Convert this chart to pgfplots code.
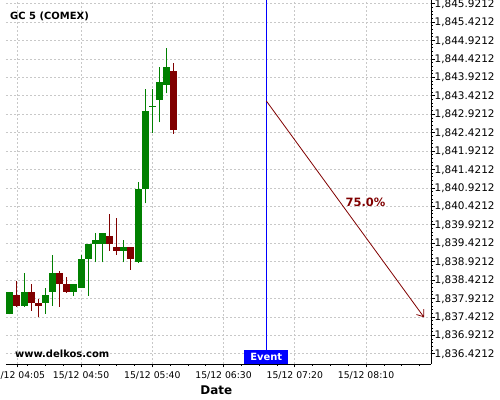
\documentclass[border=0pt]{standalone}
\usepackage{fontspec}
\setmainfont{DejaVu Sans}
\usepackage{pgfplots}
\pgfplotsset{compat=1.18}
\usetikzlibrary{arrows.meta}
\definecolor{cgreen}{RGB}{0,128,0}
\definecolor{cred}{RGB}{128,0,0}
\definecolor{gridc}{RGB}{200,200,200}
\begin{document}
\begin{tikzpicture}
\begin{axis}[
  at={(0,0)}, anchor=south west,
  scale only axis, width=425bp, height=364bp,
  xmin=-2.7, xmax=295.6, ymin=1836.1423, ymax=1846.0175,
  axis x line*=bottom, axis y line*=right,
  axis line style={line width=0.9bp, black},
  xtick={5,50,100,150,200,250},
  xticklabels={15/12 04:05,15/12 04:50,15/12 05:40,15/12 06:30,15/12 07:20,15/12 08:10},
  minor xtick={12.5,25,37.5,62.5,75,87.5,112.5,125,137.5,162.5,175,187.5,212.5,225,237.5,262.5,275,287.5},
  ytick={1836.4212,1836.9212,1837.4212,1837.9212,1838.4212,1838.9212,1839.4212,1839.9212,1840.4212,1840.9212,1841.4212,1841.9212,1842.4212,1842.9212,1843.4212,1843.9212,1844.4212,1844.9212,1845.4212,1845.9212},
  yticklabels={{1,836.4212},{1,836.9212},{1,837.4212},{1,837.9212},{1,838.4212},{1,838.9212},{1,839.4212},{1,839.9212},{1,840.4212},{1,840.9212},{1,841.4212},{1,841.9212},{1,842.4212},{1,842.9212},{1,843.4212},{1,843.9212},{1,844.4212},{1,844.9212},{1,845.4212},{1,845.9212}},
  minor y tick num=4,
  tick align=outside,
  major tick length=3.5bp, minor tick length=2bp,
  tick style={black, line width=0.6bp},
  grid=major,
  major grid style={gridc, dash pattern=on 2bp off 2bp, line width=0.6bp},
  xticklabel style={font=\fontsize{9.3}{11}\selectfont, inner sep=0pt, anchor=north, yshift=-4bp},
  yticklabel style={font=\fontsize{10.5}{12}\selectfont, inner sep=0pt, anchor=base west, yshift=-3.7bp},
  xlabel={Date},
  xlabel style={font=\bfseries\fontsize{12}{14}\selectfont, at={(rel axis cs:0.495,0)}, anchor=base, yshift=-30.3bp, inner sep=0pt},
]
% green wicks
\addplot[cgreen, line width=1bp, unbounded coords=jump, forget plot] coordinates {
(0,1837.490)(0,1838.096) (0,nan)
(10,1837.697)(10,1838.603) (10,nan)
(25,1837.499)(25,1838.204) (25,nan)
(30,1837.716)(30,1839.099) (30,nan)
(45,1837.995)(45,1838.313) (45,nan)
(50,1838.204)(50,1839.099) (50,nan)
(55,1837.995)(55,1839.398) (55,nan)
(60,1838.901)(60,1839.696) (60,nan)
(65,1838.901)(65,1839.696) (65,nan)
(80,1838.901)(80,1839.506) (80,nan)
(90,1838.891)(90,1841.088) (90,nan)
(95,1840.502)(95,1843.595) (95,nan)
(100,1842.401)(100,1843.595) (100,nan)
(105,1842.700)(105,1844.192) (105,nan)
(110,1843.486)(110,1844.707)
};
% green bodies
\addplot[cgreen, line width=7bp, unbounded coords=jump, forget plot] coordinates {
(0,1837.507)(0,1838.096) (0,nan)
(10,1837.716)(10,1838.096) (10,nan)
(25,1837.805)(25,1838.014) (25,nan)
(30,1838.096)(30,1838.611) (30,nan)
(45,1838.104)(45,1838.313) (45,nan)
(50,1838.204)(50,1838.991) (50,nan)
(55,1838.991)(55,1839.398) (55,nan)
(60,1839.398)(60,1839.506) (60,nan)
(65,1839.398)(65,1839.696) (65,nan)
(80,1839.208)(80,1839.317) (80,nan)
(90,1838.918)(90,1840.890) (90,nan)
(95,1840.890)(95,1843.006) (95,nan)
(105,1843.305)(105,1843.793) (105,nan)
(110,1843.720)(110,1844.200)
};
% doji
\addplot[cgreen, only marks, mark=-, mark size=3.5bp, mark options={line width=1bp}, forget plot] coordinates {(100,1843.134)};
% red wicks
\addplot[cred, line width=1bp, unbounded coords=jump, forget plot] coordinates {
(5,1837.697)(5,1838.386) (5,nan)
(15,1837.588)(15,1838.313) (15,nan)
(20,1837.409)(20,1837.898) (20,nan)
(35,1837.697)(35,1838.674) (35,nan)
(40,1838.077)(40,1838.495) (40,nan)
(70,1839.208)(70,1840.212) (70,nan)
(75,1839.099)(75,1840.103) (75,nan)
(85,1838.693)(85,1839.317) (85,nan)
(115,1842.390)(115,1844.300)
};
% red bodies
\addplot[cred, line width=7bp, unbounded coords=jump, forget plot] coordinates {
(5,1837.716)(5,1838.014) (5,nan)
(15,1837.805)(15,1838.096) (15,nan)
(20,1837.716)(20,1837.805) (20,nan)
(35,1838.313)(35,1838.611) (35,nan)
(40,1838.104)(40,1838.313) (40,nan)
(70,1839.398)(70,1839.615) (70,nan)
(75,1839.208)(75,1839.317) (75,nan)
(85,1838.991)(85,1839.317) (85,nan)
(115,1842.499)(115,1844.091)
};
% event line
\addplot[blue, line width=1bp, forget plot] coordinates {(180,1836.1423) (180,1846.0175)};
% forecast arrow
\addplot[cred, line width=0.8bp, -{Straight Barb[length=6bp,width=9bp]}, forget plot] coordinates {(180,1843.28) (290.7,1837.41)};
\node[cred, font=\bfseries\fontsize{11.5}{13}\selectfont, inner sep=0pt] at (axis cs:249.6,1840.524) {75.0\%};
\node[fill=blue, text=white, font=\bfseries\fontsize{10}{12}\selectfont, anchor=south, minimum width=44bp, minimum height=14bp, inner sep=0pt] at (axis cs:180,1836.1423) {Event};
\end{axis}
\node[anchor=base west, inner sep=0pt, font=\bfseries\fontsize{10}{12}\selectfont] at (4bp,344.7bp) {GC 5 (COMEX)};
\node[anchor=base west, inner sep=0pt, font=\bfseries\fontsize{10}{12}\selectfont] at (9bp,6.7bp) {www.delkos.com};
\pgfresetboundingbox
\useasboundingbox (-6bp,-36bp) rectangle (494bp,364bp);
\end{tikzpicture}
\end{document}
